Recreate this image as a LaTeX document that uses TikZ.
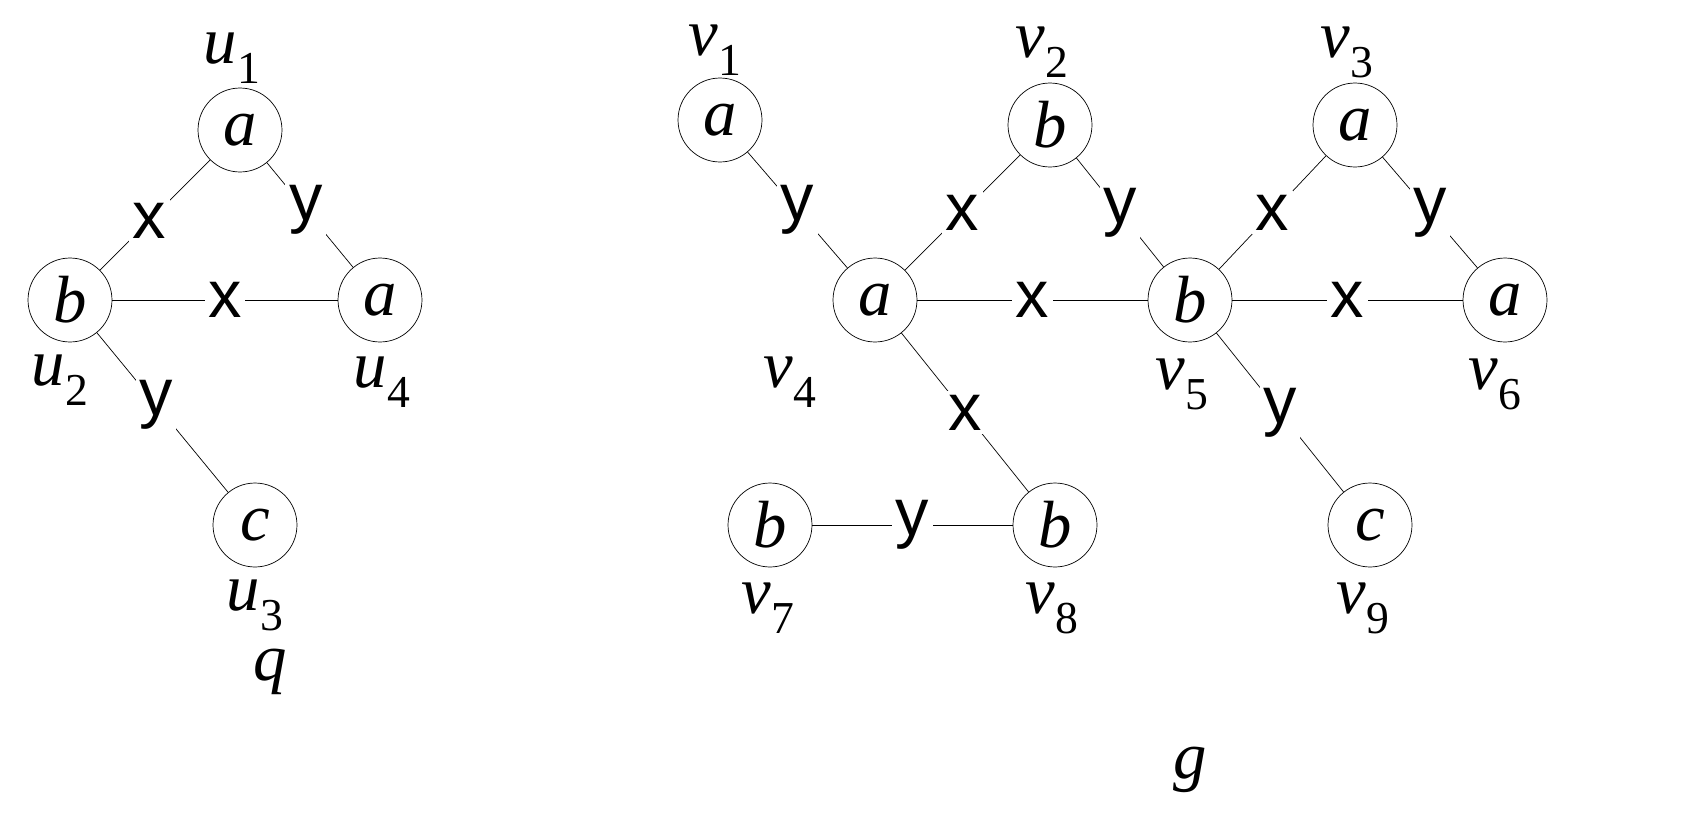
\documentclass[tikz,border=0pt]{standalone}
\usepackage{fontspec}
\setmainfont{Liberation Serif}
\newfontfamily\lsans{Liberation Sans}
\newcommand{\sbs}[2]{\textit{#1}\raisebox{-0.3em}{\fontsize{26}{30}\selectfont #2}}
\begin{document}
\begin{tikzpicture}[x=0.02cm,y=-0.02cm,
  vtx/.style={circle,draw,thin,minimum size=1.68cm,inner sep=0pt,font=\fontsize{38}{42}\selectfont\itshape},
  lab/.style={font=\fontsize{38}{42}\selectfont,inner sep=0pt},
  el/.style={fill=white,inner sep=2pt,font=\lsans\fontsize{38}{42}\selectfont},
  every path/.style={thin}]
\useasboundingbox (0,0) rectangle (1694,825);
% q
\node[vtx] (u1) at (240,130) {a};
\node[vtx] (u2) at (70,300) {b};
\node[vtx] (u4) at (380,300) {a};
\node[vtx] (u3) at (255,525) {c};
\node[lab] (lu1) at (232,58) {\sbs{u}{1}};
\node[lab] (lu2) at (60,380) {\sbs{u}{2}};
\node[lab] (lu4) at (382,382) {\sbs{u}{4}};
\node[lab] (lu3) at (255,605) {\sbs{u}{3}};
\node[lab] (lq) at (270,672) {\textit{q}};
\draw (u1) -- node[el,pos=0.55]{x} (u2);
\draw (u1) -- node[el,pos=0.45]{y} (u4);
\draw (u2) -- node[el,pos=0.5]{x} (u4);
\draw (u2) -- node[el,pos=0.45]{y} (u3);
% g
\node[vtx] (v1) at (720,120) {a};
\node[vtx] (v2) at (1050,125) {b};
\node[vtx] (v3) at (1355,125) {a};
\node[vtx] (v4) at (875,300) {a};
\node[vtx] (v5) at (1190,300) {b};
\node[vtx] (v6) at (1505,300) {a};
\node[vtx] (v7) at (770,525) {b};
\node[vtx] (v8) at (1055,525) {b};
\node[vtx] (v9) at (1370,525) {c};
\node[lab] (lv1) at (715,50) {\sbs{v}{1}};
\node[lab] (lv2) at (1042,52) {\sbs{v}{2}};
\node[lab] (lv3) at (1347,52) {\sbs{v}{3}};
\node[lab] (lv4) at (790,382) {\sbs{v}{4}};
\node[lab] (lv5) at (1182,384) {\sbs{v}{5}};
\node[lab] (lv6) at (1495,384) {\sbs{v}{6}};
\node[lab] (lv7) at (768,608) {\sbs{v}{7}};
\node[lab] (lv8) at (1052,608) {\sbs{v}{8}};
\node[lab] (lv9) at (1363,608) {\sbs{v}{9}};
\node[lab] (lg) at (1190,770) {\textit{g}};
\draw (v1) -- node[el]{y} (v4);
\draw (v4) -- node[el]{x} (v2);
\draw (v2) -- node[el]{y} (v5);
\draw (v5) -- node[el]{x} (v3);
\draw (v3) -- node[el]{y} (v6);
\draw (v4) -- node[el]{x} (v5);
\draw (v5) -- node[el]{x} (v6);
\draw (v4) -- node[el]{x} (v8);
\draw (v5) -- node[el]{y} (v9);
\draw (v7) -- node[el]{y} (v8);
\end{tikzpicture}
\end{document}
